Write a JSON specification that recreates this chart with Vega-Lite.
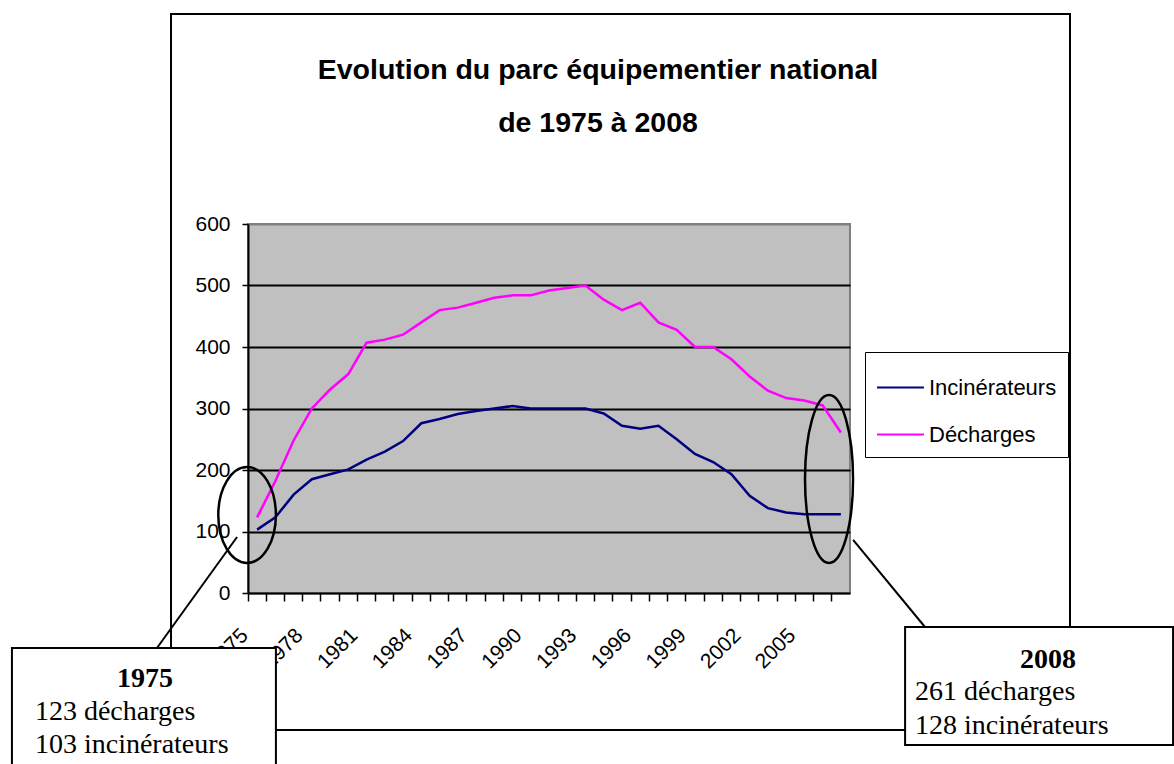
{
  "$schema": "https://vega.github.io/schema/vega-lite/v6.json",
  "width": 602,
  "height": 369,
  "autosize": {"type": "none"},
  "padding": {"left": 248, "top": 224, "right": 324, "bottom": 171},
  "background": "white",
  "config": {
    "view": {"fill": "#c0c0c0", "stroke": "#808080", "strokeWidth": 2},
    "font": "Liberation Sans"
  },
  "title": {
    "text": ["Evolution du parc équipementier national", "de 1975 à 2008"],
    "font": "Liberation Sans",
    "fontSize": 28.5,
    "fontWeight": "bold",
    "color": "black",
    "anchor": "middle",
    "dx": 49,
    "offset": -125,
    "lineHeight": 53
  },
  "resolve": {"scale": {"x": "independent", "y": "independent"}, "axis": {"x": "independent", "y": "independent"}},
  "layer": [
    {
      "data": {"values": [{}]},
      "mark": {"type": "rect", "filled": false, "stroke": "black", "strokeWidth": 2},
      "encoding": {
        "x": {"datum": 1970.28, "type": "quantitative", "scale": {"domain": [1974.5, 2007.5], "nice": false, "zero": false}, "axis": null},
        "x2": {"datum": 2019.56},
        "y": {"datum": 941.5, "type": "quantitative", "scale": {"domain": [0, 600], "nice": false, "zero": false}, "axis": null},
        "y2": {"datum": -222.8}
      }
    },
    {
      "data": {"values": [
        {"year": 1975, "Incinérateurs": 103, "Décharges": 123},
        {"year": 1976, "Incinérateurs": 123, "Décharges": 182},
        {"year": 1977, "Incinérateurs": 160, "Décharges": 248},
        {"year": 1978, "Incinérateurs": 185, "Décharges": 300},
        {"year": 1979, "Incinérateurs": 193, "Décharges": 331},
        {"year": 1980, "Incinérateurs": 201, "Décharges": 356},
        {"year": 1981, "Incinérateurs": 217, "Décharges": 407},
        {"year": 1982, "Incinérateurs": 230, "Décharges": 412},
        {"year": 1983, "Incinérateurs": 247, "Décharges": 420},
        {"year": 1984, "Incinérateurs": 276, "Décharges": 440},
        {"year": 1985, "Incinérateurs": 283, "Décharges": 460},
        {"year": 1986, "Incinérateurs": 291, "Décharges": 464},
        {"year": 1987, "Incinérateurs": 296, "Décharges": 472},
        {"year": 1988, "Incinérateurs": 300, "Décharges": 480},
        {"year": 1989, "Incinérateurs": 304, "Décharges": 484},
        {"year": 1990, "Incinérateurs": 300, "Décharges": 484},
        {"year": 1991, "Incinérateurs": 300, "Décharges": 492},
        {"year": 1992, "Incinérateurs": 300, "Décharges": 496},
        {"year": 1993, "Incinérateurs": 300, "Décharges": 500},
        {"year": 1994, "Incinérateurs": 292, "Décharges": 477},
        {"year": 1995, "Incinérateurs": 272, "Décharges": 460},
        {"year": 1996, "Incinérateurs": 267, "Décharges": 472},
        {"year": 1997, "Incinérateurs": 272, "Décharges": 440},
        {"year": 1998, "Incinérateurs": 250, "Décharges": 428},
        {"year": 1999, "Incinérateurs": 226, "Décharges": 400},
        {"year": 2000, "Incinérateurs": 213, "Décharges": 400},
        {"year": 2001, "Incinérateurs": 193, "Décharges": 380},
        {"year": 2002, "Incinérateurs": 158, "Décharges": 352},
        {"year": 2003, "Incinérateurs": 138, "Décharges": 329},
        {"year": 2004, "Incinérateurs": 131, "Décharges": 317},
        {"year": 2005, "Incinérateurs": 128, "Décharges": 313},
        {"year": 2006, "Incinérateurs": 128, "Décharges": 305},
        {"year": 2008, "Incinérateurs": 128, "Décharges": 261}
      ]},
      "transform": [{"fold": ["Incinérateurs", "Décharges"], "as": ["serie", "value"]}],
      "mark": {"type": "line", "strokeWidth": 2.5},
      "encoding": {
        "x": {
          "field": "year", "type": "ordinal", "bandPosition": 0.5,
          "scale": {"type": "band", "paddingInner": 0, "paddingOuter": 0},
          "axis": {
            "title": null, "bandPosition": 0, "labelAngle": -45, "labelAlign": "right", "labelBaseline": "middle",
            "labelExpr": "(datum.value - 1975) % 3 == 0 && datum.value < 2006 ? datum.label : ''",
            "labelFont": "Liberation Sans", "labelFontSize": 21, "labelColor": "black",
            "labelPadding": 31, "labelOffset": -12, "labelOverlap": false, "labelBound": false,
            "tickColor": "black", "tickSize": 8, "tickWidth": 1.5,
            "domainColor": "black", "domainWidth": 2, "grid": false
          }
        },
        "y": {
          "field": "value", "type": "quantitative",
          "scale": {"domain": [0, 600], "nice": false, "zero": false},
          "axis": {
            "title": null, "values": [0, 100, 200, 300, 400, 500, 600],
            "labelFont": "Liberation Sans", "labelFontSize": 21, "labelColor": "black", "labelPadding": 12,
            "tickColor": "black", "tickSize": 6, "tickWidth": 1.5,
            "domainColor": "black", "domainWidth": 2,
            "grid": true, "gridWidth": 2,
            "gridColor": {"condition": {"test": "datum.value == 600 || datum.value == 0", "value": "#808080"}, "value": "black"}
          }
        },
        "color": {
          "field": "serie", "type": "nominal",
          "scale": {"domain": ["Incinérateurs", "Décharges"], "range": ["#000080", "#ff00ff"]},
          "legend": {
            "title": null, "orient": "none", "legendX": 617, "legendY": 128,
            "symbolType": "stroke", "symbolSize": 2200, "symbolStrokeWidth": 2,
            "labelFont": "Liberation Sans", "labelFontSize": 22, "labelColor": "black", "labelOffset": 4,
            "strokeColor": "black", "fillColor": "white", "padding": 11, "rowPadding": 11
          }
        }
      }
    },
    {
      "data": {"values": [{}]},
      "mark": {"type": "point", "shape": "M-0.6,0A0.6,1 0 1,0 0.6,0A0.6,1 0 1,0 -0.6,0Z", "filled": false, "stroke": "black", "strokeWidth": 2.5, "opacity": 1, "size": 9216},
      "encoding": {
        "x": {"datum": 1974.45, "type": "quantitative", "scale": {"domain": [1974.5, 2007.5], "nice": false, "zero": false}, "axis": null},
        "y": {"datum": 126.8, "type": "quantitative", "scale": {"domain": [0, 600], "nice": false, "zero": false}, "axis": null}
      }
    },
    {
      "data": {"values": [{}]},
      "mark": {"type": "point", "shape": "M-0.286,0A0.286,1 0 1,0 0.286,0A0.286,1 0 1,0 -0.286,0Z", "filled": false, "stroke": "black", "strokeWidth": 2.5, "opacity": 1, "size": 28224},
      "encoding": {
        "x": {"datum": 2006.35, "type": "quantitative", "scale": {"domain": [1974.5, 2007.5], "nice": false, "zero": false}, "axis": null},
        "y": {"datum": 185.4, "type": "quantitative", "scale": {"domain": [0, 600], "nice": false, "zero": false}, "axis": null}
      }
    },
    {
      "data": {"values": [{}]},
      "mark": {"type": "rule", "stroke": "black", "strokeWidth": 2},
      "encoding": {
        "x": {"datum": 1973.9, "type": "quantitative", "scale": {"domain": [1974.5, 2007.5], "nice": false, "zero": false}, "axis": null},
        "x2": {"datum": 1969.51},
        "y": {"datum": 91.1, "type": "quantitative", "scale": {"domain": [0, 600], "nice": false, "zero": false}, "axis": null},
        "y2": {"datum": -89.4}
      }
    },
    {
      "data": {"values": [{}]},
      "mark": {"type": "rule", "stroke": "black", "strokeWidth": 2},
      "encoding": {
        "x": {"datum": 2007.67, "type": "quantitative", "scale": {"domain": [1974.5, 2007.5], "nice": false, "zero": false}, "axis": null},
        "x2": {"datum": 2011.61},
        "y": {"datum": 86.2, "type": "quantitative", "scale": {"domain": [0, 600], "nice": false, "zero": false}, "axis": null},
        "y2": {"datum": -55.3}
      }
    },
    {
      "data": {"values": [{}]},
      "mark": {"type": "rect", "fill": "white", "stroke": "black", "strokeWidth": 2},
      "encoding": {
        "x": {"datum": 1961.56, "type": "quantitative", "scale": {"domain": [1974.5, 2007.5], "nice": false, "zero": false}, "axis": null},
        "x2": {"datum": 1976.03},
        "y": {"datum": -89.4, "type": "quantitative", "scale": {"domain": [0, 600], "nice": false, "zero": false}, "axis": null},
        "y2": {"datum": -336.6}
      }
    },
    {
      "data": {"values": [{}]},
      "mark": {"type": "rect", "fill": "white", "stroke": "black", "strokeWidth": 2},
      "encoding": {
        "x": {"datum": 2010.52, "type": "quantitative", "scale": {"domain": [1974.5, 2007.5], "nice": false, "zero": false}, "axis": null},
        "x2": {"datum": 2025.21},
        "y": {"datum": -55.3, "type": "quantitative", "scale": {"domain": [0, 600], "nice": false, "zero": false}, "axis": null},
        "y2": {"datum": -247.2}
      }
    },
    {
      "data": {"values": [{}]},
      "mark": {"type": "text", "text": "1975", "font": "Liberation Serif", "fontSize": 28, "fontWeight": "bold", "align": "center", "baseline": "alphabetic", "color": "black"},
      "encoding": {
        "x": {"datum": 1968.85, "type": "quantitative", "scale": {"domain": [1974.5, 2007.5], "nice": false, "zero": false}, "axis": null},
        "y": {"datum": -152.8, "type": "quantitative", "scale": {"domain": [0, 600], "nice": false, "zero": false}, "axis": null}
      }
    },
    {
      "data": {"values": [{}]},
      "mark": {"type": "text", "text": "123 décharges", "font": "Liberation Serif", "fontSize": 28, "align": "left", "baseline": "alphabetic", "color": "black"},
      "encoding": {
        "x": {"datum": 1962.82, "type": "quantitative", "scale": {"domain": [1974.5, 2007.5], "nice": false, "zero": false}, "axis": null},
        "y": {"datum": -206.5, "type": "quantitative", "scale": {"domain": [0, 600], "nice": false, "zero": false}, "axis": null}
      }
    },
    {
      "data": {"values": [{}]},
      "mark": {"type": "text", "text": "103 incinérateurs", "font": "Liberation Serif", "fontSize": 28, "align": "left", "baseline": "alphabetic", "color": "black"},
      "encoding": {
        "x": {"datum": 1962.82, "type": "quantitative", "scale": {"domain": [1974.5, 2007.5], "nice": false, "zero": false}, "axis": null},
        "y": {"datum": -260.2, "type": "quantitative", "scale": {"domain": [0, 600], "nice": false, "zero": false}, "axis": null}
      }
    },
    {
      "data": {"values": [{}]},
      "mark": {"type": "text", "text": "2008", "font": "Liberation Serif", "fontSize": 28, "fontWeight": "bold", "align": "center", "baseline": "alphabetic", "color": "black"},
      "encoding": {
        "x": {"datum": 2018.36, "type": "quantitative", "scale": {"domain": [1974.5, 2007.5], "nice": false, "zero": false}, "axis": null},
        "y": {"datum": -122, "type": "quantitative", "scale": {"domain": [0, 600], "nice": false, "zero": false}, "axis": null}
      }
    },
    {
      "data": {"values": [{}]},
      "mark": {"type": "text", "text": "261 décharges", "font": "Liberation Serif", "fontSize": 28, "align": "left", "baseline": "alphabetic", "color": "black"},
      "encoding": {
        "x": {"datum": 2011.06, "type": "quantitative", "scale": {"domain": [1974.5, 2007.5], "nice": false, "zero": false}, "axis": null},
        "y": {"datum": -174, "type": "quantitative", "scale": {"domain": [0, 600], "nice": false, "zero": false}, "axis": null}
      }
    },
    {
      "data": {"values": [{}]},
      "mark": {"type": "text", "text": "128 incinérateurs", "font": "Liberation Serif", "fontSize": 28, "align": "left", "baseline": "alphabetic", "color": "black"},
      "encoding": {
        "x": {"datum": 2011.06, "type": "quantitative", "scale": {"domain": [1974.5, 2007.5], "nice": false, "zero": false}, "axis": null},
        "y": {"datum": -229.3, "type": "quantitative", "scale": {"domain": [0, 600], "nice": false, "zero": false}, "axis": null}
      }
    }
  ]
}
